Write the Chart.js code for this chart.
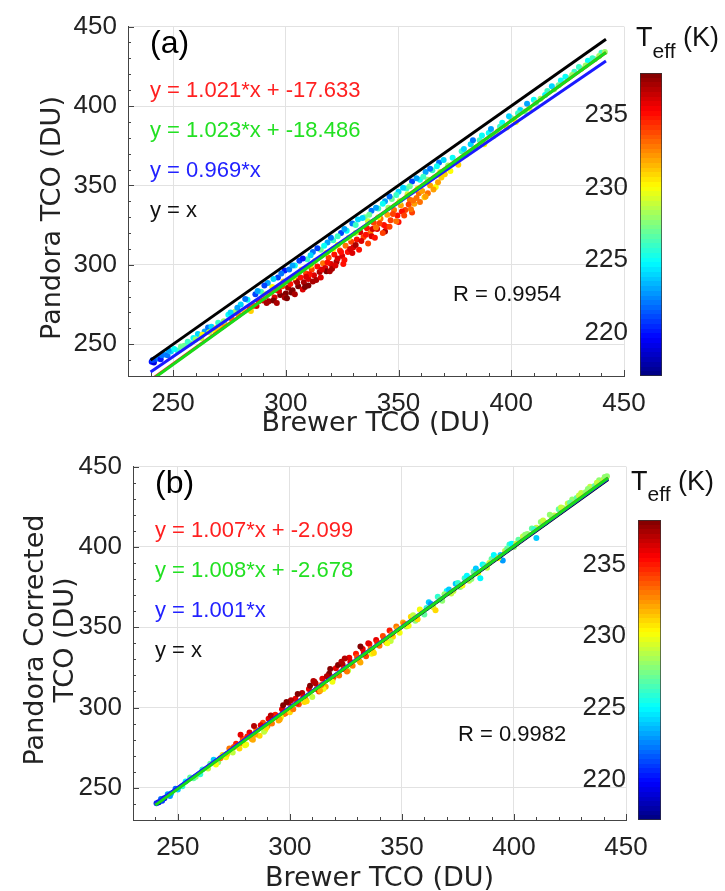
<!DOCTYPE html>
<html>
<head>
<meta charset="utf-8">
<script src="https://cdn.jsdelivr.net/npm/chart.js@4.4.0/dist/chart.umd.min.js"></script>
<style>
  body { margin: 0; background: #fff; width: 725px; height: 891px; position: relative; overflow: hidden; font-family: "Liberation Sans", Arial, sans-serif; }
  canvas { position: absolute; }
  .cbt { position: absolute; font-size: 27px; line-height: 27px; color: #111; white-space: nowrap; }
  .cbt .sub { font-size: 21px; position: relative; }
</style>
</head>
<body>
<canvas id="plotA" style="left:0;top:0" width="725" height="440"></canvas>
<canvas id="barA" style="left:570px;top:0" width="155" height="440"></canvas>
<canvas id="plotB" style="left:0;top:440px" width="725" height="451"></canvas>
<canvas id="barB" style="left:570px;top:440px" width="155" height="451"></canvas>
<div class="cbt" style="left:636px;top:24px">T<span class="sub" style="top:12px">eff</span> (K)</div>
<div class="cbt" style="left:631px;top:468px">T<span class="sub" style="top:11px">eff</span> (K)</div>

<script>
// axes
const xTicks = [250, 300, 350, 400, 450];
const yTicks = [250, 300, 350, 400, 450];
const cbTicks = [220, 225, 230, 235];
const lineSpan = [240, 442];

// regression lines: red, green, blue, black
const slopesA = [1.021, 1.023, 0.969, 1];
const interceptsA = [-17.633, -18.486, 0, 0];
const eqLabelsA = ['y = 1.021*x + -17.633', 'y = 1.023*x + -18.486', 'y = 0.969*x', 'y = x'];
const rLabelA = 'R = 0.9954';
const teffRangeA = [217.0, 237.9];

const slopesB = [1.007, 1.008, 1.001, 1];
const interceptsB = [-2.099, -2.678, 0, 0];
const eqLabelsB = ['y = 1.007*x + -2.099', 'y = 1.008*x + -2.678', 'y = 1.001*x', 'y = x'];
const rLabelB = 'R = 0.9982';
const teffRangeB = [217.2, 238.1];

// (a) Brewer vs Pandora, coloured by Teff
const brewerA = [
  240.5, 241.5, 242.0, 243.5, 244.5, 246.0, 247.5, 249.0, 252.0, 255.0,
  257.5, 259.0, 261.0, 262.5, 264.0, 265.5, 267.0, 268.5, 270.0, 271.5,
  273.0, 274.5, 276.0, 277.5, 279.0, 280.0, 281.5, 283.0, 284.0, 285.5,
  286.5, 288.0, 289.0, 290.0,
  291.0, 292.5, 293.5, 295.0, 296.0, 297.5, 298.5, 300.0, 301.0, 302.0,
  303.0, 304.5, 305.5, 306.5, 308.0, 309.0, 310.0, 311.5, 312.5, 314.0,
  315.0, 316.5, 317.5, 319.0, 320.0, 321.5, 322.5, 324.0, 325.0, 326.5,
  327.5, 329.0, 330.0,
  294.0, 299.0, 307.0, 313.0, 318.0, 323.0, 328.0,
  292.0, 296.5, 299.5, 301.5, 304.0, 306.0, 309.5, 312.0, 315.5, 318.5, 321.0, 324.5, 327.0, 329.5,
  331.5, 333.0, 334.5, 336.0, 337.5, 339.0, 340.5, 342.0, 343.5, 345.0,
  346.5, 348.0, 349.5, 351.0, 353.0, 355.0, 357.0, 359.0, 361.5, 364.0,
  366.5, 369.0,
  332.0, 335.0, 338.0, 341.0, 344.0, 347.0, 350.0, 353.5, 356.0, 359.5, 362.0, 365.0, 368.0, 370.0,
  336.5, 345.5, 354.0, 363.0,
  372.0, 374.0, 376.0, 378.0, 380.0, 382.0, 384.0, 386.0, 388.0, 390.0,
  392.0, 394.0, 396.0, 398.0, 400.0, 402.0, 404.0, 406.0, 408.0, 410.0,
  413.0, 416.0, 419.0, 422.0, 425.0, 428.0, 431.0, 434.0, 437.0, 440.0,
  441.5,
  338.0, 344.0, 350.0, 356.0, 318.0, 310.0,
  287.0, 291.5, 294.5, 297.0, 299.5, 302.5, 305.0, 307.5, 310.5, 313.5,
  316.0, 318.5, 320.5, 323.0, 325.5, 328.5, 331.0, 333.5, 335.5, 338.5,
  341.5, 344.5, 347.5, 351.5, 354.5, 358.0, 360.5, 363.0, 367.5, 370.5,
  373.0, 376.5,
  282.0, 287.5, 290.5, 294.5, 298.0, 303.0, 307.5, 311.0, 314.0, 317.0,
  320.0, 323.0, 326.0, 331.0, 334.0, 337.0, 340.0, 343.0, 346.0, 349.0,
  352.0, 355.0, 358.0, 361.0, 364.0, 367.0,
  284.5, 291.0, 303.5, 311.0, 321.0, 331.0, 341.0, 350.5, 358.5, 368.5,
  379.0, 383.0, 387.0, 391.0, 395.0, 399.0, 403.0, 407.0, 411.0, 415.0,
  418.0, 421.0, 424.0, 427.0, 430.0, 433.0, 436.0, 439.0,
  241.0, 245.0, 248.0, 250.5, 253.5, 256.5, 260.0, 263.0, 266.0, 269.0,
  272.5, 275.5, 278.5,
  296.0, 300.5, 304.0, 308.5, 312.0, 315.5, 319.5, 322.0, 326.0, 329.5,
  332.5, 336.5, 339.5, 343.0, 346.0, 349.0, 352.5, 355.5, 359.5, 362.0,
  365.5, 309.0, 324.5, 340.0, 356.5
];
const pandoraA = [
  239.0, 238.5, 240.5, 241.0, 240.5, 243.5, 243.0, 245.5, 246.0, 249.0,
  250.5, 254.0, 256.5, 254.0, 258.0, 260.5, 261.0, 258.5, 263.5, 261.0,
  262.5, 268.5, 266.0, 270.5, 268.5, 275.0, 271.0, 278.0, 272.5, 274.0,
  281.5, 277.0, 283.0, 277.5,
  280.0, 277.0, 282.5, 279.5, 284.0, 281.0, 286.5, 282.0, 285.5, 288.0,
  284.0, 290.0, 286.5, 292.0, 289.0, 294.5, 291.0, 297.0, 293.5, 299.0,
  295.5, 301.0, 298.0, 304.5, 300.5, 306.5, 302.0, 309.0, 305.5, 312.0,
  308.0, 314.5, 311.0,
  286.0, 289.5, 297.0, 302.5, 307.5, 312.5, 317.0,
  288.5, 292.0, 296.5, 297.0, 299.5, 302.5, 303.5, 308.0, 309.5, 314.0, 315.5, 320.0, 321.5, 326.0,
  316.0, 320.5, 317.5, 323.0, 320.0, 326.5, 322.5, 329.0, 325.0, 331.5,
  328.0, 334.5, 331.0, 337.5, 334.5, 341.0, 338.5, 345.0, 342.5, 350.0,
  349.0, 355.0,
  328.5, 330.0, 334.0, 335.5, 340.0, 341.5, 346.0, 348.0, 352.5, 353.5, 358.5, 359.5, 364.5, 366.0,
  327.5, 336.0, 344.5, 353.5,
  362.5, 367.5, 364.5, 371.5, 369.5, 376.0, 373.5, 378.5, 376.0, 383.0,
  381.0, 384.0, 389.5, 386.5, 392.5, 390.0, 397.5, 396.5, 398.5, 404.0,
  404.5, 409.5, 410.5, 416.0, 417.5, 421.5, 423.5, 428.5, 429.5, 433.5,
  434.0,
  318.0, 321.0, 327.0, 333.0, 296.0, 287.0,
  274.0, 276.0, 277.5, 283.5, 279.5, 282.5, 289.0, 284.5, 294.0, 290.5,
  297.0, 301.5, 297.5, 304.0, 300.5, 310.0, 312.5, 315.0, 319.0, 322.5,
  326.0, 324.0, 332.0, 333.5, 338.0, 342.0, 346.5, 345.0, 352.0, 357.0,
  359.0, 363.0,
  278.5, 283.5, 287.0, 291.0, 294.5, 299.5, 304.0, 306.0, 310.5, 312.0,
  317.0, 318.0, 322.5, 325.0, 329.5, 331.5, 336.0, 338.5, 343.0, 344.0,
  348.5, 349.5, 354.5, 355.5, 360.5, 362.0,
  271.0, 281.5, 292.0, 299.5, 310.0, 320.0, 330.0, 340.0, 348.0, 358.5,
  373.0, 378.5, 381.5, 385.5, 387.0, 393.5, 395.5, 401.5, 402.0, 407.0,
  412.5, 413.0, 418.5, 419.5, 424.5, 425.5, 430.0, 431.5,
  240.0, 243.0, 246.0, 247.0, 248.5, 251.5, 253.0, 256.0, 257.5, 260.0,
  264.5, 270.0, 273.0,
  276.0, 279.0, 281.5, 286.0, 289.5, 292.0, 296.0, 299.5, 303.0, 307.5,
  309.5, 313.5, 317.0, 320.0, 324.0, 327.5, 331.0, 335.0, 339.5, 343.0,
  347.5, 292.5, 308.0, 323.5, 340.5
];
const teffA = [
  220, 219, 221, 222, 220, 223, 222, 224, 226, 227,
  228, 225, 224, 229, 223, 222, 224, 230, 226, 231,
  232, 225, 233, 228, 232, 224, 230, 225, 234, 233,
  221, 235, 226, 236,
  234, 237, 233, 236, 235, 238, 234, 238, 237, 235,
  238, 236, 238, 235, 237, 234, 236, 234, 236, 235,
  237, 233, 236, 234, 236, 235, 237, 234, 236, 233,
  235, 234, 236,
  230, 231, 230, 229, 231, 230, 229,
  223, 221, 220, 222, 225, 221, 226, 222, 227, 223, 226, 221, 225, 222,
  235, 236, 234, 235, 233, 234, 236, 233, 235, 232,
  234, 233, 235, 232, 234, 233, 232, 233, 231, 232,
  230, 231,
  224, 227, 222, 226, 223, 227, 224, 226, 221, 225, 223, 226, 222, 224,
  229, 228, 229, 228,
  228, 225, 230, 226, 229, 224, 227, 226, 230, 225,
  228, 229, 225, 231, 227, 230, 224, 227, 229, 225,
  228, 226, 228, 225, 227, 226, 228, 225, 227, 226,
  228,
  236, 237, 235, 234, 238, 238,
  236, 237, 238, 236, 237, 238, 237, 236, 235, 237,
  236, 235, 237, 236, 235, 236, 237, 236, 235, 236,
  234, 235, 234, 235, 234, 233, 232, 233, 232, 231,
  230, 231,
  222, 223, 221, 224, 222, 223, 220, 224, 221, 225,
  222, 226, 223, 226, 224, 227, 223, 225, 222, 226,
  224, 227, 223, 226, 222, 225,
  231, 229, 230, 231, 230, 229, 230, 229, 230, 229,
  224, 222, 225, 223, 226, 224, 226, 223, 227, 225,
  224, 227, 225, 228, 226, 228, 226, 228,
  221, 222, 223, 225, 227, 226, 228, 230, 229, 231,
  228, 224, 223,
  237, 238, 237, 238, 237, 236, 237, 236, 235, 236,
  235, 234, 235, 234, 234, 233, 234, 233, 233, 232,
  232, 236, 235, 233, 233
];

// (b) Brewer vs corrected Pandora
const brewerB = [
  240.5, 241.5, 242.5, 244.0, 245.5, 247.0, 249.0, 252.0, 255.5, 258.0,
  261.0, 263.5, 266.0, 268.0, 270.0, 271.5, 273.0, 274.5, 276.0, 277.5,
  279.0, 280.5, 282.0, 283.5, 285.0, 286.5, 288.0, 289.0, 290.5, 292.0,
  293.5, 295.0, 296.5, 298.0, 299.5, 301.0, 302.5, 304.0, 305.5, 307.0,
  308.5, 310.0, 311.5, 313.0, 314.5, 316.0, 317.5, 319.0, 320.5, 322.0,
  323.5, 325.0, 326.5, 328.0, 329.5, 331.0, 332.5, 334.0, 335.5, 337.0,
  338.5, 340.0, 341.5, 343.0, 344.5, 346.0, 347.5, 349.0, 350.5, 352.0,
  354.0, 356.0, 358.0, 360.0, 362.0, 364.0, 366.0, 368.0, 370.0, 372.0,
  374.0, 376.0, 378.0, 380.0, 382.0, 384.0, 386.0, 388.0, 390.0, 392.0,
  394.0, 396.0, 398.0, 400.0, 402.0, 404.0, 406.0, 408.0, 410.0, 412.0,
  414.0, 416.0, 418.0, 420.0, 422.0, 424.0, 426.0, 428.0, 430.0, 432.0,
  434.0, 436.0, 438.0, 440.0, 441.5,
  297.0, 303.5, 310.5, 318.0, 324.5, 331.5, 284.0, 278.0, 300.0, 315.0,
  345.0, 365.0, 385.0, 395.0, 410.0,
  243.0, 246.5, 250.0, 253.5, 257.0, 260.0, 264.5, 267.0, 269.0, 272.0,
  275.0, 278.5, 281.0, 284.5, 287.0, 290.0, 291.5, 294.0, 297.5, 300.5,
  303.0, 306.0, 309.0, 312.0, 314.0, 316.5, 319.5, 321.5, 324.0, 327.0,
  330.0, 333.0, 336.0, 339.0, 342.0, 345.5, 348.0, 351.0, 353.0, 296.0,
  306.5, 326.0, 336.5, 288.5, 280.0,
  355.0, 357.0, 361.0, 363.0, 367.0, 369.0, 371.0, 373.0, 375.0, 377.0,
  379.0, 381.0, 383.0, 387.0, 389.0, 391.0, 393.0, 397.0, 399.0, 401.0,
  405.0, 409.0, 413.0, 417.0, 421.0, 425.0, 429.0, 433.0, 437.0, 440.5,
  283.0, 289.5, 295.5, 301.5, 307.5, 313.5, 319.0, 325.5, 331.5, 337.5,
  343.5, 298.5, 311.0, 323.0, 335.0
];
const pandoraB = [
  240.5, 241.0, 243.0, 243.5, 246.0, 246.5, 249.5, 251.0, 256.5, 257.0,
  261.5, 262.0, 267.5, 266.0, 270.5, 269.0, 274.5, 272.0, 277.5, 274.5,
  280.5, 277.0, 284.5, 280.0, 286.0, 282.5, 290.5, 286.0, 293.0, 290.0,
  295.5, 292.0, 299.0, 296.5, 303.0, 299.0, 305.5, 302.0, 309.0, 305.0,
  311.5, 306.5, 315.0, 310.0, 318.0, 313.0, 321.0, 317.5, 324.5, 320.0,
  327.0, 323.5, 331.0, 326.0, 333.5, 329.0, 336.5, 332.0, 339.5, 335.0,
  342.0, 338.5, 344.5, 340.5, 348.0, 344.0, 350.5, 346.5, 353.0, 350.5,
  356.5, 354.0, 361.0, 358.0, 365.5, 362.5, 369.0, 366.5, 372.5, 371.0,
  377.0, 375.0, 380.5, 379.0, 384.5, 383.5, 389.0, 387.0, 392.5, 393.5,
  395.0, 397.5, 401.5, 400.0, 404.5, 406.5, 408.0, 411.5, 412.0, 415.5,
  415.0, 420.0, 419.5, 423.5, 424.0, 427.0, 429.5, 430.5, 433.5, 434.0,
  437.5, 438.0, 441.5, 442.0, 444.0,
  301.5, 308.5, 316.5, 324.0, 330.5, 338.0, 288.5, 283.0, 297.0, 311.5,
  341.5, 360.5, 380.5, 391.5, 405.5,
  242.0, 245.0, 249.0, 254.0, 256.0, 258.5, 265.0, 264.5, 268.5, 271.0,
  275.5, 278.0, 282.0, 283.0, 289.0, 288.5, 295.0, 294.5, 296.0, 304.5,
  302.5, 306.5, 313.5, 311.5, 314.0, 319.5, 319.0, 326.5, 324.0, 328.5,
  331.5, 334.0, 336.5, 340.5, 342.5, 346.0, 349.0, 352.0, 351.0, 294.0,
  303.5, 323.0, 333.5, 285.0, 276.5,
  357.5, 355.0, 362.0, 364.5, 367.5, 370.5, 373.5, 372.5, 377.5, 376.0,
  382.0, 380.0, 386.5, 388.5, 390.0, 395.0, 393.0, 399.0, 402.0, 402.0,
  407.5, 411.0, 416.5, 419.0, 424.5, 427.5, 432.0, 436.0, 440.0, 443.5,
  280.5, 287.5, 292.5, 299.0, 304.0, 310.5, 316.0, 322.5, 328.0, 334.0,
  340.0, 303.5, 316.0, 328.5, 340.0
];
const teffB = [
  221, 219, 222, 220, 223, 224, 222, 226, 227, 228,
  226, 229, 224, 228, 231, 230, 233, 229, 235, 231,
  234, 230, 236, 232, 233, 231, 234, 230, 236, 233,
  235, 232, 236, 234, 237, 233, 236, 234, 237, 233,
  236, 229, 237, 234, 236, 232, 238, 235, 236, 233,
  237, 234, 236, 233, 235, 232, 236, 234, 235, 231,
  236, 233, 234, 232, 235, 231, 233, 230, 232, 229,
  231, 228, 230, 227, 224, 229, 226, 228, 225, 229,
  224, 228, 226, 229, 227, 230, 225, 229, 227, 228,
  224, 229, 226, 228, 227, 229, 228, 227, 229, 228,
  226, 228, 229, 227, 228, 229, 228, 227, 229, 228,
  229, 227, 228, 229, 228,
  238, 238, 237, 238, 237, 238, 237, 236, 231, 230,
  229, 231, 225, 223, 224,
  221, 223, 224, 225, 227, 226, 227, 230, 233, 231,
  234, 233, 235, 232, 236, 233, 237, 235, 233, 237,
  235, 236, 238, 235, 233, 237, 234, 238, 235, 236,
  234, 236, 233, 235, 234, 233, 232, 233, 230, 230,
  231, 229, 230, 229, 230,
  229, 231, 226, 223, 227, 228, 224, 229, 226, 230,
  225, 228, 224, 226, 229, 225, 230, 227, 225, 229,
  228, 226, 229, 228, 229, 227, 229, 228, 229, 228,
  232, 231, 232, 233, 231, 232, 230, 233, 232, 231,
  230, 238, 237, 237, 236
];

const fitColors = ['#ff2020', '#18dc18', '#1a1aff', '#000000'];
const textColors = ['#ff2020', '#22e022', '#2222ff', '#111111'];
const fitOrder = [2, 0, 1, 3];
const titleFont = '"DejaVu Sans", Verdana, sans-serif';

Chart.defaults.font.family = '"Liberation Sans", Arial, sans-serif';
Chart.defaults.color = '#222';

// matlab-style jet colormap
function jet(t) {
  t = Math.min(1, Math.max(0, t));
  const c = v => Math.round(255 * Math.min(1, Math.max(0, 1.5 - Math.abs(v))));
  return `rgb(${c(4 * t - 3)},${c(4 * t - 2)},${c(4 * t - 1)})`;
}

const annotate = {
  id: 'annotate',
  afterDatasetsDraw(chart, args, opts) {
    const { ctx, chartArea: a, scales } = chart;
    ctx.save();
    // minor ticks, inward
    ctx.strokeStyle = '#444';
    ctx.lineWidth = 1;
    ctx.beginPath();
    for (let v = 230; v <= 450; v += 10) {
      const len = v % 50 === 0 ? 6 : 3;
      const py = Math.round(scales.y.getPixelForValue(v)) + 0.5;
      ctx.moveTo(a.left, py); ctx.lineTo(a.left + len, py);
      const px = Math.round(scales.x.getPixelForValue(v)) + 0.5;
      ctx.moveTo(px, a.bottom); ctx.lineTo(px, a.bottom - len);
    }
    ctx.stroke();

    ctx.textBaseline = 'middle';
    ctx.textAlign = 'left';
    ctx.fillStyle = '#000';
    ctx.font = '32px "Liberation Sans", Arial, sans-serif';
    ctx.fillText(opts.panel, a.left + 22, a.top + 18);
    ctx.font = '22px "Liberation Sans", Arial, sans-serif';
    opts.eqs.forEach((e, i) => {
      ctx.fillStyle = textColors[i];
      ctx.fillText(e, a.left + 22, a.top + 64 + i * 40);
    });
    ctx.fillStyle = '#111';
    ctx.fillText(opts.r, a.left + 325, a.top + 268);

    // y axis title, rotated
    ctx.font = '27px ' + titleFont;
    ctx.fillStyle = '#222';
    ctx.textAlign = 'center';
    opts.yTitle.forEach((line, i) => {
      ctx.save();
      ctx.translate(opts.yTitleX[i], opts.yTitleY);
      ctx.rotate(-Math.PI / 2);
      ctx.fillText(line, 0, 0);
      ctx.restore();
    });
    ctx.restore();
  }
};

function makePlot(id, p) {
  const colors = p.teff.map(t => jet((t - p.range[0]) / (p.range[1] - p.range[0])));
  const points = p.x.map((x, i) => ({ x, y: p.y[i] }));
  const fits = p.slopes.map((m, i) => ({
    type: 'line',
    data: lineSpan.map(x => ({ x, y: m * x + p.intercepts[i] })),
    borderColor: fitColors[i],
    borderWidth: 3,
    pointRadius: 0,
    order: fitOrder[i]
  }));

  new Chart(document.getElementById(id), {
    type: 'scatter',
    data: {
      datasets: [
        ...fits,
        { type: 'scatter', data: points, pointRadius: 3, pointBorderWidth: 0, pointBackgroundColor: colors, order: 10 }
      ]
    },
    options: {
      responsive: false,
      animation: false,
      events: [],
      layout: { padding: { left: 0, right: p.padRight, top: p.padTop, bottom: 0 } },
      plugins: {
        legend: { display: false },
        tooltip: { enabled: false },
        annotate: { panel: p.panel, eqs: p.eqs, r: p.r, yTitle: p.yTitle, yTitleX: p.yTitleX, yTitleY: p.yTitleY }
      },
      scales: {
        x: {
          type: 'linear', min: 230, max: 450,
          afterBuildTicks: s => { s.ticks = xTicks.map(v => ({ value: v })); },
          afterFit: s => { s.height = p.xAxisH; },
          border: { display: true, color: '#444', width: 1 },
          grid: { color: '#e2e2e2', drawTicks: false },
          ticks: { font: { size: 26 }, color: '#222', padding: 12, maxRotation: 0, autoSkip: false },
          title: { display: true, text: 'Brewer TCO (DU)', font: { size: 27, family: titleFont }, color: '#222', padding: { top: 0, bottom: p.xTitlePad } }
        },
        y: {
          type: 'linear', min: 230, max: 450,
          afterBuildTicks: s => { s.ticks = yTicks.map(v => ({ value: v })); },
          afterFit: s => { s.width = p.yAxisW; },
          border: { display: true, color: '#444', width: 1 },
          grid: { color: '#e2e2e2', drawTicks: false },
          ticks: { font: { size: 26 }, color: '#222', padding: 11, autoSkip: false }
        }
      }
    },
    plugins: [annotate]
  });
}

function jetGradient(chart) {
  const a = chart.chartArea;
  if (!a) return 'transparent';
  const g = chart.ctx.createLinearGradient(0, a.bottom, 0, a.top);
  for (let k = 0; k < 64; k++) {
    const c = jet((k + 0.5) / 64);
    g.addColorStop(k / 64, c);
    g.addColorStop((k + 1) / 64, c);
  }
  return g;
}

function makeColorbar(id, c) {
  new Chart(document.getElementById(id), {
    type: 'bar',
    data: {
      labels: [''],
      datasets: [{
        data: [c.range],
        backgroundColor: ctx => jetGradient(ctx.chart),
        borderColor: '#333',
        borderWidth: 1,
        borderSkipped: false,
        barPercentage: 1,
        categoryPercentage: 1
      }]
    },
    options: {
      responsive: false,
      animation: false,
      events: [],
      layout: { padding: { left: 0, right: c.padRight, top: c.padTop, bottom: c.padBottom } },
      plugins: { legend: { display: false }, tooltip: { enabled: false } },
      scales: {
        x: { display: false },
        y: {
          min: c.range[0], max: c.range[1],
          afterBuildTicks: s => { s.ticks = cbTicks.map(v => ({ value: v })); },
          afterFit: s => { s.width = c.axisW; },
          grid: { display: false, drawTicks: false },
          border: { display: false },
          ticks: { font: { size: 26 }, color: '#222', padding: 12 }
        }
      }
    }
  });
}

makePlot('plotA', {
  x: brewerA, y: pandoraA, teff: teffA, range: teffRangeA,
  slopes: slopesA, intercepts: interceptsA, eqs: eqLabelsA, r: rLabelA, panel: '(a)',
  yTitle: ['Pandora TCO (DU)'], yTitleX: [53], yTitleY: 218,
  yAxisW: 128, xAxisH: 64, padTop: 24, padRight: 101, xTitlePad: 0
});
makePlot('plotB', {
  x: brewerB, y: pandoraB, teff: teffB, range: teffRangeB,
  slopes: slopesB, intercepts: interceptsB, eqs: eqLabelsB, r: rLabelB, panel: '(b)',
  yTitle: ['Pandora Corrected', 'TCO (DU)'], yTitleX: [36, 66], yTitleY: 200,
  yAxisW: 133, xAxisH: 71, padTop: 26, padRight: 99, xTitlePad: -4
});
makeColorbar('barA', { range: teffRangeA, axisW: 70, padTop: 73, padBottom: 64, padRight: 63 });
makeColorbar('barB', { range: teffRangeB, axisW: 68, padTop: 80, padBottom: 71, padRight: 64 });
</script>
</body>
</html>
